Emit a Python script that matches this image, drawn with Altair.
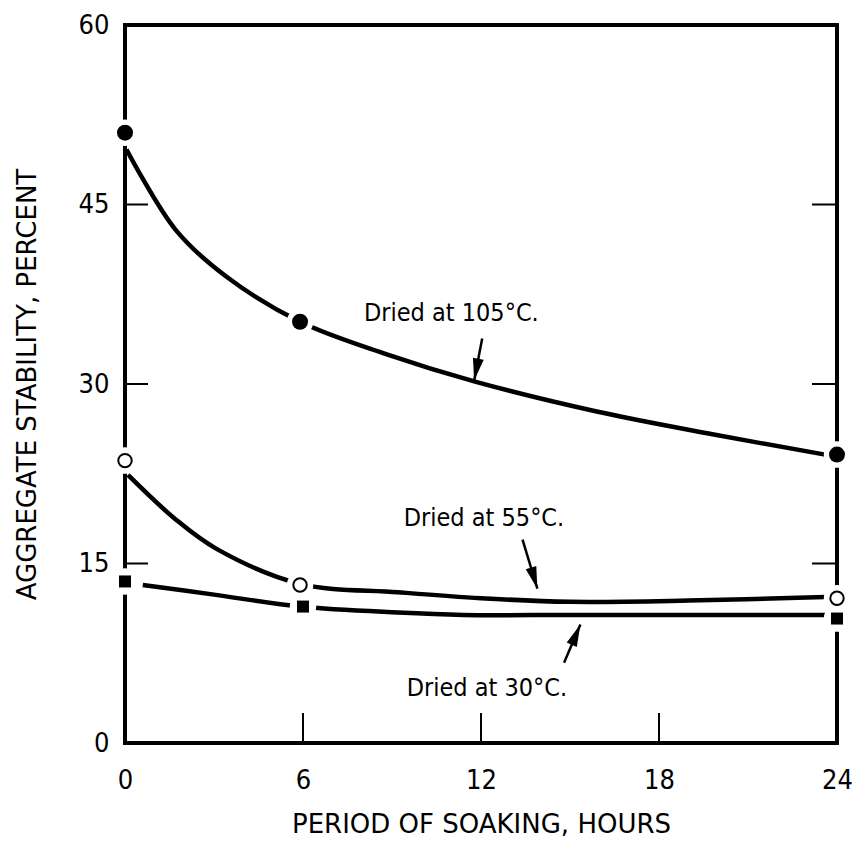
import math
import altair as alt
import pandas as pd

# ---------------- data ----------------
series_names = ["Dried at 105°C.", "Dried at 55°C.", "Dried at 30°C."]

# measured points (hours, percent)
pts_105_x = [0, 5.9, 24]
pts_105_y = [51.0, 35.2, 24.1]
pts_55_x = [0, 5.9, 24]
pts_55_y = [23.6, 13.2, 12.1]
pts_30_x = [0, 6.0, 24]
pts_30_y = [13.5, 11.4, 10.4]

# fitted curves (hours, percent)
crv_105_x = [0.05, 1.7, 3.4, 5.9, 8.8, 11.8, 15.9, 19.8, 23.6]
crv_105_y = [49.6, 42.9, 39.0, 35.2, 32.5, 30.2, 27.7, 25.8, 24.1]
crv_55_x = [0.1, 1.7, 3.1, 5.9, 9.2, 12.0, 15.0, 19.0, 23.6]
crv_55_y = [22.4, 18.7, 16.2, 13.3, 12.6, 12.1, 11.8, 11.9, 12.2]
crv_30_x = [0.6, 3.0, 5.9, 9.2, 11.4, 15.0, 19.0, 23.6]
crv_30_y = [13.2, 12.4, 11.4, 10.9, 10.7, 10.7, 10.7, 10.7]

# annotation labels and arrows
label_x = [11.0, 12.1, 12.2]
label_y = [35.9, 18.8, 4.6]
arrow_tail_x = [12.04, 13.4, 14.8]
arrow_tail_y = [33.8, 17.0, 6.7]
arrow_tip_x = [11.77, 13.9, 15.35]
arrow_tip_y = [30.3, 12.9, 9.9]

x_ticks = [0, 6, 12, 18, 24]
y_ticks = [0, 15, 30, 45, 60]
inner_y_ticks = [15, 30, 45]
inner_x_ticks = [6, 12, 18]

# ---------------- layout ----------------
W, H = 712, 718
XDOM, YDOM = [0, 24], [0, 60]
px_x = W / (XDOM[1] - XDOM[0])
px_y = H / (YDOM[1] - YDOM[0])

FONT_C = "DejaVu Sans Condensed"
FONT_T = "DejaVu Sans"

xs = alt.Scale(domain=XDOM, nice=False, zero=False)
ys = alt.Scale(domain=YDOM, nice=False, zero=False)

def curve_df(xv, yv, name):
    return pd.DataFrame({"h": xv, "p": yv, "s": name})

curves = pd.concat([
    curve_df(crv_105_x, crv_105_y, series_names[0]),
    curve_df(crv_55_x, crv_55_y, series_names[1]),
    curve_df(crv_30_x, crv_30_y, series_names[2]),
])
pts = pd.concat([
    curve_df(pts_105_x, pts_105_y, series_names[0]),
    curve_df(pts_55_x, pts_55_y, series_names[1]),
    curve_df(pts_30_x, pts_30_y, series_names[2]),
])

angles = []
for tx, ty, hx, hy in zip(arrow_tail_x, arrow_tail_y, arrow_tip_x, arrow_tip_y):
    dx = (hx - tx) * px_x
    dy = -(hy - ty) * px_y
    angles.append(math.degrees(math.atan2(dx, -dy)) % 360)

ann = pd.DataFrame({
    "lx": label_x, "ly": label_y, "t": series_names,
    "tx": arrow_tail_x, "ty": arrow_tail_y,
    "hx": arrow_tip_x, "hy": arrow_tip_y, "ang": angles,
})

X = lambda f="h": alt.X(f"{f}:Q", scale=xs)
Y = lambda f="p": alt.Y(f"{f}:Q", scale=ys)

base_x_axis = alt.Axis(values=x_ticks, ticks=False, domain=False, grid=False,
                       labelFont=FONT_C, labelFontSize=27, labelColor="black",
                       labelPadding=24, labelFlush=False,
                       title="PERIOD OF SOAKING, HOURS", titleFont=FONT_T,
                       titleFontSize=26, titleFontWeight="normal",
                       titleColor="black", titlePadding=18)
base_y_axis = alt.Axis(values=y_ticks, ticks=False, domain=False, grid=False,
                       labelFont=FONT_C, labelFontSize=27, labelColor="black",
                       labelPadding=16, labelFlush=False,
                       title="AGGREGATE STABILITY, PERCENT", titleFont=FONT_T,
                       titleFontSize=26, titleFontWeight="normal",
                       titleColor="black", titlePadding=38)

lines = alt.Chart(curves).mark_line(
    color="black", strokeWidth=4.5, interpolate="catmull-rom"
).encode(
    x=alt.X("h:Q", scale=xs, axis=base_x_axis),
    y=alt.Y("p:Q", scale=ys, axis=base_y_axis),
    detail="s:N",
)

# frame (drawn under the marker halos so they break it, as in the print)
frame_style = dict(color="black", strokeWidth=3)
frame_left = alt.Chart(pts).mark_rule(**frame_style).encode(
    x=alt.value(0), y=alt.value(0), y2=alt.value(H))
frame_right = alt.Chart(pts).mark_rule(**frame_style).encode(
    x=alt.value(W), y=alt.value(0), y2=alt.value(H))
frame_top = alt.Chart(pts).mark_rule(**frame_style).encode(
    y=alt.value(0), x=alt.value(-1.5), x2=alt.value(W + 1.5))
frame_bottom = alt.Chart(pts).mark_rule(**frame_style).encode(
    y=alt.value(H), x=alt.value(-1.5), x2=alt.value(W + 1.5))

halo = alt.Chart(pts).mark_point(
    shape="circle", filled=True, color="white", size=700, opacity=1
).encode(x=X(), y=Y())

m105 = alt.Chart(pts[pts.s == series_names[0]]).mark_point(
    shape="circle", filled=True, color="black", size=256, opacity=1
).encode(x=X(), y=Y())
m55 = alt.Chart(pts[pts.s == series_names[1]]).mark_point(
    shape="circle", filled=True, fill="white", stroke="black",
    strokeWidth=2, size=180, opacity=1
).encode(x=X(), y=Y())
m30 = alt.Chart(pts[pts.s == series_names[2]]).mark_point(
    shape="square", filled=True, color="black", size=144, opacity=1
).encode(x=X(), y=Y())

labels = alt.Chart(ann).mark_text(
    font=FONT_C, fontSize=25, color="black", align="center", baseline="middle"
).encode(x=X("lx"), y=Y("ly"), text="t:N")

shafts = alt.Chart(ann).mark_rule(color="black", strokeWidth=2.5).encode(
    x=X("tx"), y=Y("ty"), x2="hx:Q", y2="hy:Q"
)
heads = alt.Chart(ann).mark_point(
    shape="M0,0L0.5,2L-0.5,2Z", filled=True, color="black", size=484, opacity=1
).encode(x=X("hx"), y=Y("hy"), angle=alt.Angle("ang:Q", scale=None))

ticks_df = pd.DataFrame({"v": inner_y_ticks})
xticks_df = pd.DataFrame({"v": inner_x_ticks})
left_ticks = alt.Chart(ticks_df).mark_rule(color="black", strokeWidth=2).encode(
    y=alt.Y("v:Q", scale=ys), x=alt.value(0), x2=alt.value(23))
right_ticks = alt.Chart(ticks_df).mark_rule(color="black", strokeWidth=2).encode(
    y=alt.Y("v:Q", scale=ys), x=alt.value(W - 25), x2=alt.value(W))
bottom_ticks = alt.Chart(xticks_df).mark_rule(color="black", strokeWidth=2).encode(
    x=alt.X("v:Q", scale=xs), y=alt.value(H), y2=alt.value(H - 30))

chart = alt.layer(
    lines, frame_left, frame_right, frame_top, frame_bottom,
    left_ticks, right_ticks, bottom_ticks, halo, m105, m55, m30,
    shafts, heads, labels
).properties(
    width=W, height=H,
    autosize=alt.AutoSizeParams(type="none"),
    padding={"left": 117, "top": 17, "right": 16, "bottom": 100},
).configure(
    background="white",
    view=alt.ViewConfig(strokeWidth=0),
)

chart.save("out.html", embed_options={"renderer": "svg", "actions": False})
